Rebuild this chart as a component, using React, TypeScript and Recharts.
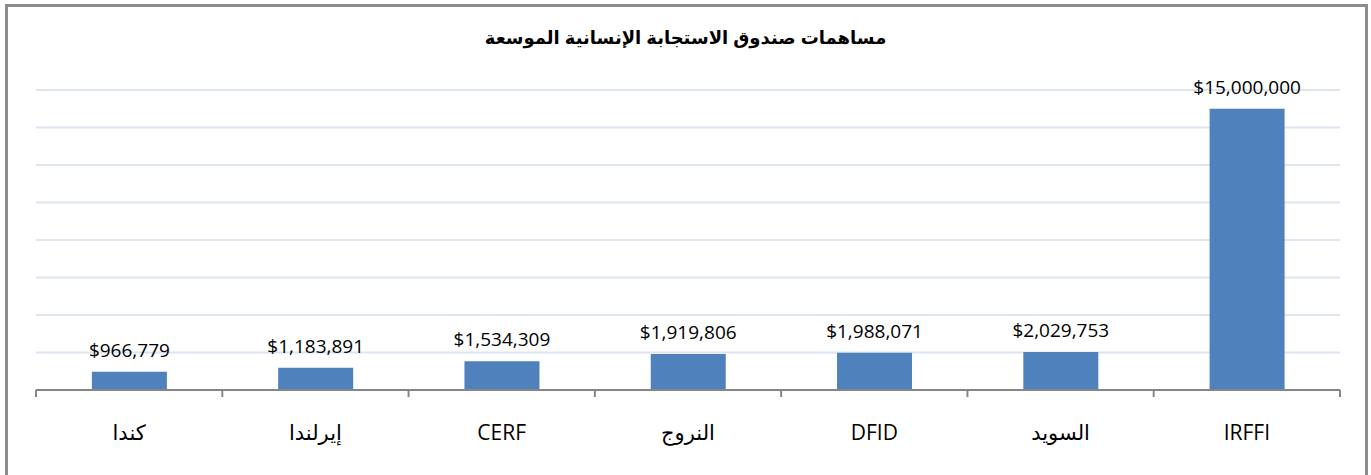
import { BarChart, Bar, XAxis, YAxis, CartesianGrid, LabelList } from 'recharts';

const donors = ['كندا', 'إيرلندا', 'CERF', 'النروج', 'DFID', 'السويد', 'IRFFI'];
const amounts = [966779, 1183891, 1534309, 1919806, 1988071, 2029753, 15000000];
const yTicks = [0, 2000000, 4000000, 6000000, 8000000, 10000000, 12000000, 14000000, 16000000];

const chartData = donors.map((name, i) => ({ name, amount: amounts[i] }));

const W = 1371;
const H = 475;
const M = { top: 90, right: 31, left: 36, bottom: 0 };
const band = (W - M.left - M.right) / donors.length;
const FONT = "'Open Sans', 'DejaVu Sans', sans-serif";

const fmt = (v: number) => '$' + v.toLocaleString('en-US');

// tick marks sit between categories, label in the middle
function DonorTick(props: any) {
  const { x, y, payload, index } = props;
  const left = x - band / 2;
  const right = x + band / 2;
  return (
    <g>
      <line x1={left} y1={y - 8} x2={left} y2={y - 1} stroke="#868686" strokeWidth={2} />
      {index === donors.length - 1 && (
        <line x1={right} y1={y - 8} x2={right} y2={y - 1} stroke="#868686" strokeWidth={2} />
      )}
      <text x={x} y={y + 42} textAnchor="middle" fontSize={21} fill="#000" fontFamily={FONT}>
        {payload.value}
      </text>
    </g>
  );
}

export default function App() {
  return (
    <div style={{ position: 'absolute', left: 0, top: 0, width: W, height: H, background: '#fff' }}>
      <div
        style={{
          position: 'absolute',
          left: 5,
          top: 4,
          width: W - 5 - 3,
          height: H + 10,
          border: '3px solid #8c8c8c',
          boxSizing: 'border-box',
        }}
      />
      <div
        style={{
          position: 'absolute',
          left: 0,
          top: 27,
          width: W,
          textAlign: 'center',
          fontFamily: "Arial, 'DejaVu Sans', sans-serif",
          fontWeight: 'bold',
          fontSize: 18,
          direction: 'rtl',
        }}
      >
        مساهمات صندوق الاستجابة الإنسانية الموسعة
      </div>
      <div style={{ position: 'absolute', left: 0, top: 0 }}>
        <BarChart width={W} height={H} data={chartData} margin={M} barCategoryGap="30%">
          <CartesianGrid vertical={false} stroke="#dce6f2" strokeWidth={2} />
          <YAxis hide domain={[0, 16000000]} ticks={yTicks} />
          <XAxis
            dataKey="name"
            height={85}
            axisLine={{ stroke: '#868686', strokeWidth: 2 }}
            tickLine={false}
            tick={<DonorTick />}
            interval={0}
          />
          <Bar dataKey="amount" fill="#4f81bd" isAnimationActive={false}>
            <LabelList
              dataKey="amount"
              position="top"
              offset={15}
              formatter={(v: any) => fmt(Number(v))}
              style={{ fontSize: 19, fill: '#000', fontFamily: FONT }}
            />
          </Bar>
        </BarChart>
      </div>
    </div>
  );
}
